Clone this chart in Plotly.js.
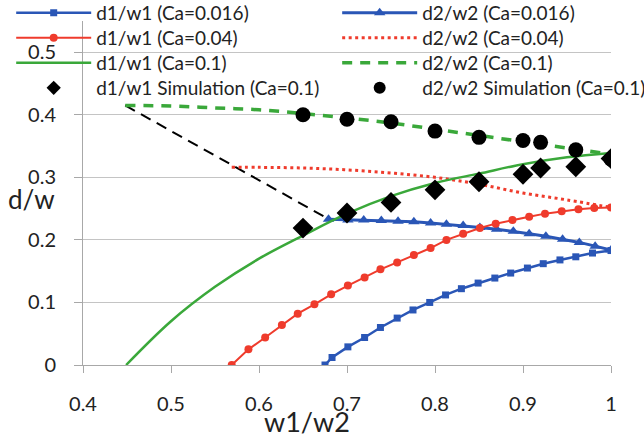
<!DOCTYPE html>
<html>
<head>
<meta charset="utf-8">
<script src="https://cdn.plot.ly/plotly-3.0.1.min.js"></script>
<style>html,body{margin:0;padding:0;background:#fff;}#chart{width:644px;height:438px;}</style>
</head>
<body>
<div id="chart"></div>
<script>
// d1/w1 (Ca=0.016)
var x_d1_016 = [0.675,0.683,0.701,0.72,0.738,0.757,0.775,0.794,0.812,0.83,0.849,0.868,0.886,0.905,0.923,0.942,0.96,0.979,1.0];
var y_d1_016 = [0,0.012,0.029,0.044,0.06,0.075,0.088,0.1,0.112,0.122,0.131,0.139,0.147,0.155,0.162,0.168,0.173,0.179,0.183];
// d2/w2 (Ca=0.016)
var x_d2_016 = [0.679,0.701,0.719,0.739,0.758,0.776,0.795,0.813,0.832,0.851,0.87,0.889,0.907,0.926,0.945,0.964,0.982,1.0];
var y_d2_016 = [0.233,0.232,0.232,0.231,0.23,0.229,0.227,0.225,0.223,0.22,0.217,0.214,0.21,0.206,0.201,0.196,0.19,0.184];
// d1/w1 (Ca=0.04)
var x_d1_04 = [0.569,0.588,0.607,0.626,0.644,0.663,0.682,0.701,0.72,0.738,0.757,0.776,0.795,0.813,0.832,0.851,0.869,0.888,0.907,0.925,0.944,0.963,0.981,1.0];
var y_d1_04 = [0,0.025,0.044,0.064,0.082,0.097,0.113,0.127,0.14,0.153,0.164,0.176,0.187,0.2,0.21,0.219,0.226,0.232,0.237,0.242,0.246,0.249,0.251,0.252];
// d2/w2 (Ca=0.04)
var x_d2_04 = [0.569,0.6,0.65,0.7,0.75,0.8,0.85,0.9,0.95,1.0];
var y_d2_04 = [0.316,0.316,0.315,0.312,0.307,0.3,0.289,0.275,0.264,0.252];
// d1/w1 (Ca=0.1)
var x_d1_1 = [0.449,0.5,0.55,0.6,0.65,0.7,0.75,0.8,0.85,0.9,0.95,1.0];
var y_d1_1 = [0,0.07,0.125,0.17,0.207,0.242,0.27,0.291,0.306,0.321,0.332,0.339];
// d2/w2 (Ca=0.1)
var x_d2_1 = [0.448,0.5,0.55,0.6,0.65,0.7,0.75,0.8,0.85,0.9,0.95,1.0];
var y_d2_1 = [0.415,0.414,0.411,0.408,0.402,0.395,0.387,0.377,0.367,0.357,0.347,0.337];
// Simulations (Ca=0.1)
var x_sim = [0.65,0.7,0.75,0.8,0.85,0.9,0.92,0.96,1.0];
var y_sim_d1 = [0.219,0.243,0.26,0.28,0.293,0.305,0.315,0.317,0.33];
var y_sim_d2 = [0.4,0.393,0.389,0.374,0.364,0.359,0.356,0.344,0.329];
// guide arrow (dashed black)
var x_guide = [0.448,0.677];
var y_guide = [0.415,0.235];

var BLUE = '#2a56b6', RED = '#ef3b2c', GREEN = '#3aa83a';

var traces = [
  {x:x_guide,y:y_guide,mode:'lines',line:{color:'#000',width:2,dash:'11px,7px'},showlegend:false,hoverinfo:'skip'},
  {x:x_d1_016,y:y_d1_016,mode:'lines+markers',name:'d1/w1 (Ca=0.016)',legend:'legend',line:{color:BLUE,width:2.5},marker:{symbol:'square',size:7,color:BLUE}},
  {x:x_d2_016,y:y_d2_016,mode:'lines+markers',name:'d2/w2 (Ca=0.016)',legend:'legend5',line:{color:BLUE,width:3},marker:{symbol:'triangle-up',size:10,color:BLUE}},
  {x:x_d1_04,y:y_d1_04,mode:'lines+markers',name:'d1/w1 (Ca=0.04)',legend:'legend2',line:{color:RED,width:2},marker:{symbol:'circle',size:8,color:RED}},
  {x:x_d2_04,y:y_d2_04,mode:'lines',name:'d2/w2 (Ca=0.04)',legend:'legend6',line:{color:RED,width:3,dash:'3px,3.5px',shape:'spline'}},
  {x:x_d1_1,y:y_d1_1,mode:'lines',name:'d1/w1 (Ca=0.1)',legend:'legend3',line:{color:GREEN,width:2.5,shape:'spline'}},
  {x:x_d2_1,y:y_d2_1,mode:'lines',name:'d2/w2 (Ca=0.1)',legend:'legend7',line:{color:GREEN,width:3.5,dash:'10px,8px',shape:'spline'}},
  {x:x_sim,y:y_sim_d1,mode:'markers',name:'d1/w1 Simulation (Ca=0.1)',showlegend:false,marker:{symbol:'diamond',size:16,color:'#000'}},
  {x:x_sim,y:y_sim_d2,mode:'markers',name:'d2/w2 Simulation (Ca=0.1)',showlegend:false,marker:{symbol:'circle',size:15,color:'#000'}},
  // legend-only entries (smaller legend symbols, no data points)
  {x:[null],y:[null],mode:'markers',name:'d1/w1 Simulation (Ca=0.1)',legend:'legend4',marker:{symbol:'diamond',size:11,color:'#000'}},
  {x:[null],y:[null],mode:'markers',name:'d2/w2 Simulation (Ca=0.1)',legend:'legend8',marker:{symbol:'circle',size:12,color:'#000'}}
];

// legend row positions (paper coords) and columns
var rowY = [1.0233, 0.9506, 0.8779, 0.8052];
var colX = [-0.136, 0.4814];
function leg(col,row){
  return {x:colX[col],xanchor:'left',y:rowY[row],yanchor:'middle',bgcolor:'rgba(0,0,0,0)',borderwidth:0,
          font:{size:19,color:'#222'},itemwidth:75,orientation:'v'};
}

var layout = {
  width:644, height:438,
  margin:{l:83,r:33,t:21,b:73,pad:0,autoexpand:false},
  paper_bgcolor:'#fff', plot_bgcolor:'#fff',
  font:{family:'Lato, "Open Sans", sans-serif',color:'#222',size:20},
  showlegend:true,
  legend:leg(0,0), legend2:leg(0,1), legend3:leg(0,2), legend4:leg(0,3),
  legend5:leg(1,0), legend6:leg(1,1), legend7:leg(1,2), legend8:leg(1,3),
  xaxis:{range:[0.4,1],dtick:0.1,tick0:0.4,showgrid:false,zeroline:false,showline:true,linecolor:'#a8a8a8',linewidth:1,
         ticks:'outside',ticklen:7,tickcolor:'#a8a8a8',tickfont:{size:20},ticklabelstandoff:14,automargin:false},
  yaxis:{range:[0,0.55],tickvals:[0,0.1,0.2,0.3,0.4,0.5],ticktext:['0','0.1','0.2','0.3','0.4','0.5'],showgrid:true,gridcolor:'#c4c4c4',gridwidth:1,zeroline:false,
         showline:true,linecolor:'#a8a8a8',linewidth:1,ticks:'outside',ticklen:8,tickcolor:'#a8a8a8',tickfont:{size:20},ticklabelstandoff:14,automargin:false},
  annotations:[
    {text:'d/w',xref:'paper',yref:'paper',x:-0.098,y:0.482,xanchor:'center',yanchor:'middle',showarrow:false,font:{size:26,color:'#222'}},
    {text:'w1/w2',xref:'paper',yref:'paper',x:0.424,y:-0.165,xanchor:'center',yanchor:'middle',showarrow:false,font:{size:27,color:'#222'}}
  ]
};

Plotly.newPlot('chart',traces,layout,{displayModeBar:false,staticPlot:true});
</script>
</body>
</html>
